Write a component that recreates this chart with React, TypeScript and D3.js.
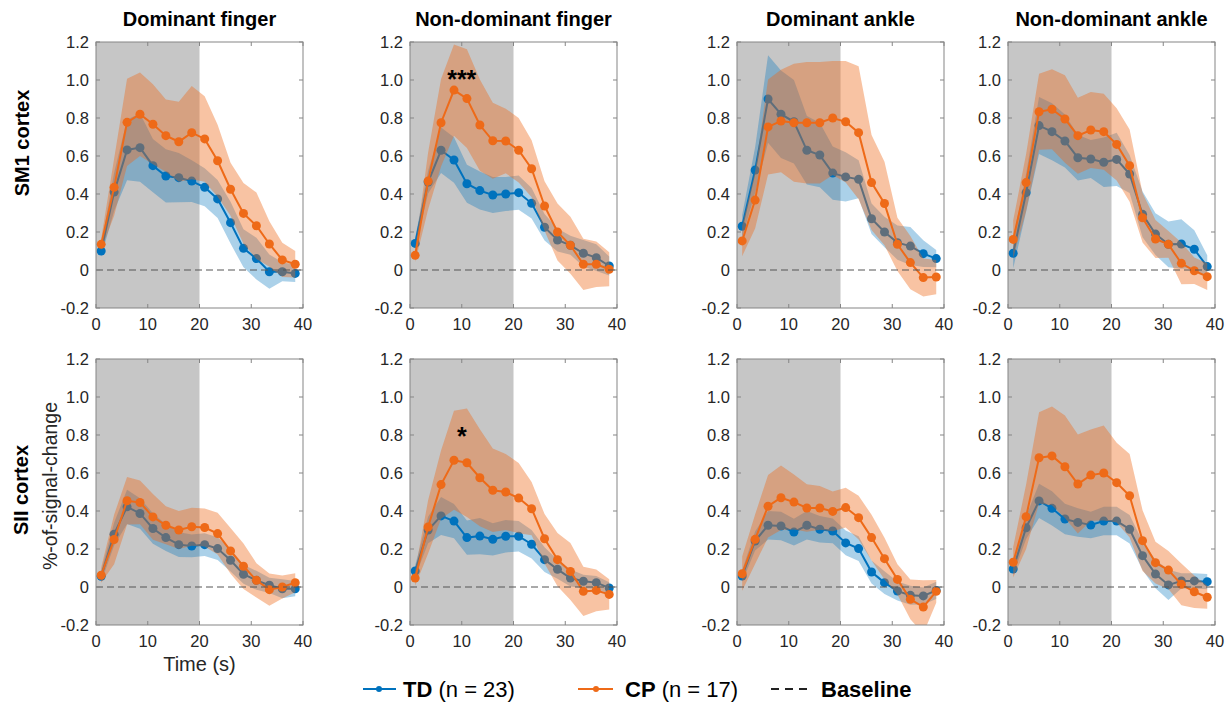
import React from 'react';
import * as d3 from 'd3';

// ---------- data ----------
const timePoints = [1, 3.5, 6, 8.5, 11, 13.5, 16, 18.5, 21, 23.5, 26, 28.5, 31, 33.5, 36, 38.5];
const xTicks = [0, 10, 20, 30, 40];
const yTicks = [-0.2, 0, 0.2, 0.4, 0.6, 0.8, 1.0, 1.2];
const yTickLabels = ['-0.2', '0', '0.2', '0.4', '0.6', '0.8', '1.0', '1.2'];
const columnTitles = ['Dominant finger', 'Non-dominant finger', 'Dominant ankle', 'Non-dominant ankle'];
const rowTitles = ['SM1 cortex', 'SII cortex'];
const stimulusWindow = [0, 20];

// SM1 cortex
const tdSM1DomFingerMean = [0.10, 0.41, 0.632, 0.644, 0.549, 0.495, 0.486, 0.468, 0.435, 0.374, 0.249, 0.114, 0.06, -0.009, -0.009, -0.018];
const tdSM1DomFingerErr = [0.03, 0.1, 0.16, 0.18, 0.14, 0.14, 0.13, 0.11, 0.1, 0.1, 0.11, 0.1, 0.11, 0.09, 0.05, 0.045];
const cpSM1DomFingerMean = [0.135, 0.435, 0.777, 0.82, 0.767, 0.707, 0.675, 0.723, 0.69, 0.575, 0.425, 0.298, 0.233, 0.137, 0.053, 0.03];
const cpSM1DomFingerErr = [0.03, 0.15, 0.23, 0.22, 0.21, 0.19, 0.21, 0.245, 0.225, 0.19, 0.14, 0.16, 0.175, 0.12, 0.09, 0.07];

const tdSM1NonDomFingerMean = [0.14, 0.463, 0.63, 0.579, 0.454, 0.418, 0.395, 0.40, 0.407, 0.351, 0.225, 0.158, 0.13, 0.088, 0.065, 0.021];
const tdSM1NonDomFingerErr = [0.03, 0.06, 0.12, 0.12, 0.1, 0.1, 0.095, 0.09, 0.09, 0.08, 0.07, 0.06, 0.05, 0.07, 0.07, 0.05];
const cpSM1NonDomFingerMean = [0.077, 0.468, 0.775, 0.947, 0.902, 0.763, 0.68, 0.679, 0.63, 0.533, 0.337, 0.2, 0.13, 0.03, 0.03, 0.004];
const cpSM1NonDomFingerErr = [0.035, 0.15, 0.23, 0.24, 0.26, 0.24, 0.2, 0.17, 0.17, 0.15, 0.13, 0.15, 0.15, 0.135, 0.12, 0.09];

const tdSM1DomAnkleMean = [0.23, 0.526, 0.90, 0.82, 0.78, 0.63, 0.605, 0.51, 0.49, 0.477, 0.27, 0.20, 0.144, 0.126, 0.086, 0.06];
const tdSM1DomAnkleErr = [0.06, 0.12, 0.23, 0.23, 0.22, 0.18, 0.17, 0.14, 0.13, 0.1, 0.08, 0.08, 0.09, 0.1, 0.07, 0.045];
const cpSM1DomAnkleMean = [0.153, 0.368, 0.753, 0.784, 0.775, 0.775, 0.775, 0.80, 0.78, 0.723, 0.46, 0.35, 0.135, 0.039, -0.04, -0.037];
const cpSM1DomAnkleErr = [0.08, 0.15, 0.25, 0.27, 0.31, 0.32, 0.32, 0.3, 0.32, 0.35, 0.25, 0.22, 0.14, 0.14, 0.1, 0.09];

const tdSM1NonDomAnkleMean = [0.088, 0.407, 0.76, 0.728, 0.679, 0.591, 0.584, 0.567, 0.582, 0.505, 0.293, 0.189, 0.135, 0.137, 0.109, 0.018];
const tdSM1NonDomAnkleErr = [0.08, 0.1, 0.15, 0.15, 0.14, 0.12, 0.1, 0.13, 0.14, 0.1, 0.12, 0.11, 0.12, 0.13, 0.1, 0.06];
const cpSM1NonDomAnkleMean = [0.161, 0.46, 0.833, 0.846, 0.795, 0.707, 0.737, 0.728, 0.661, 0.549, 0.275, 0.163, 0.135, 0.035, -0.004, -0.035];
const cpSM1NonDomAnkleErr = [0.1, 0.15, 0.2, 0.21, 0.23, 0.2, 0.2, 0.2, 0.19, 0.19, 0.13, 0.1, 0.07, 0.11, 0.07, 0.07];

// SII cortex
const tdSIIDomFingerMean = [0.056, 0.278, 0.422, 0.387, 0.308, 0.26, 0.223, 0.216, 0.223, 0.202, 0.141, 0.067, 0.035, 0.009, -0.009, -0.009];
const tdSIIDomFingerErr = [0.03, 0.06, 0.09, 0.08, 0.08, 0.07, 0.065, 0.06, 0.06, 0.06, 0.06, 0.05, 0.05, 0.04, 0.05, 0.04];
const cpSIIDomFingerMean = [0.062, 0.25, 0.454, 0.445, 0.369, 0.325, 0.30, 0.317, 0.313, 0.281, 0.19, 0.109, 0.035, -0.014, 0.0, 0.023];
const cpSIIDomFingerErr = [0.04, 0.13, 0.125, 0.115, 0.12, 0.1, 0.1, 0.1, 0.1, 0.11, 0.12, 0.12, 0.09, 0.085, 0.06, 0.05];

const tdSIINonDomFingerMean = [0.084, 0.30, 0.374, 0.347, 0.26, 0.268, 0.251, 0.267, 0.267, 0.225, 0.144, 0.093, 0.047, 0.03, 0.023, -0.005];
const tdSIINonDomFingerErr = [0.03, 0.07, 0.1, 0.09, 0.09, 0.095, 0.085, 0.085, 0.08, 0.075, 0.065, 0.05, 0.045, 0.035, 0.035, 0.03];
const cpSIINonDomFingerMean = [0.047, 0.316, 0.539, 0.667, 0.654, 0.575, 0.509, 0.50, 0.468, 0.412, 0.254, 0.144, 0.082, -0.023, -0.018, -0.039];
const cpSIINonDomFingerErr = [0.04, 0.14, 0.18, 0.26, 0.285, 0.255, 0.22, 0.2, 0.185, 0.14, 0.13, 0.14, 0.15, 0.13, 0.11, 0.08];

const tdSIIDomAnkleMean = [0.058, 0.242, 0.325, 0.321, 0.289, 0.325, 0.304, 0.295, 0.232, 0.202, 0.079, 0.023, -0.021, -0.044, -0.047, -0.018];
const tdSIIDomAnkleErr = [0.03, 0.05, 0.075, 0.075, 0.07, 0.075, 0.07, 0.065, 0.065, 0.065, 0.06, 0.06, 0.05, 0.05, 0.045, 0.045];
const cpSIIDomAnkleMean = [0.07, 0.251, 0.425, 0.47, 0.447, 0.416, 0.416, 0.398, 0.418, 0.365, 0.26, 0.149, 0.04, -0.065, -0.105, -0.023];
const cpSIIDomAnkleErr = [0.09, 0.13, 0.165, 0.17, 0.145, 0.125, 0.115, 0.105, 0.105, 0.115, 0.12, 0.11, 0.08, 0.105, 0.14, 0.06];

const tdSIINonDomAnkleMean = [0.095, 0.312, 0.453, 0.414, 0.358, 0.34, 0.326, 0.347, 0.347, 0.304, 0.165, 0.068, 0.011, 0.032, 0.032, 0.028];
const tdSIINonDomAnkleErr = [0.03, 0.06, 0.09, 0.09, 0.08, 0.075, 0.07, 0.075, 0.075, 0.075, 0.075, 0.075, 0.08, 0.04, 0.04, 0.04];
const cpSIINonDomAnkleMean = [0.13, 0.37, 0.68, 0.69, 0.633, 0.542, 0.589, 0.60, 0.549, 0.48, 0.244, 0.128, 0.089, 0.014, -0.025, -0.054];
const cpSIINonDomAnkleErr = [0.08, 0.17, 0.24, 0.26, 0.27, 0.26, 0.24, 0.25, 0.21, 0.22, 0.16, 0.11, 0.1, 0.11, 0.085, 0.06];

// significance annotations
const sigPanels = [1, 5];
const sigTimes = [10, 10];
const sigValues = [0.96, 0.75];
const sigLabels = ['***', '*'];

const legendLabels = ['TD', 'CP', 'Baseline'];
const legendCounts = ['(n = 23)', '(n = 17)', ''];

// ---------- styling / layout ----------
const W = 1231;
const H = 703;
const FONT = '"Liberation Sans", Arial, Helvetica, sans-serif';
const TD_COLOR = '#0072BD';
const CP_COLOR = '#EE6A18';
const GRAY_BG = '#c6c6c6';
const AXIS_COLOR = '#858585';
const TEXT_COLOR = '#262626';
const panelLefts = [96, 410, 737, 1008];
const panelTops = [42, 359];
const panelW = 207;
const panelH = 266;

type Panel = {
  row: number; col: number;
  td: number[]; tdErr: number[]; cp: number[]; cpErr: number[];
};

const panels: Panel[] = [
  { row: 0, col: 0, td: tdSM1DomFingerMean, tdErr: tdSM1DomFingerErr, cp: cpSM1DomFingerMean, cpErr: cpSM1DomFingerErr },
  { row: 0, col: 1, td: tdSM1NonDomFingerMean, tdErr: tdSM1NonDomFingerErr, cp: cpSM1NonDomFingerMean, cpErr: cpSM1NonDomFingerErr },
  { row: 0, col: 2, td: tdSM1DomAnkleMean, tdErr: tdSM1DomAnkleErr, cp: cpSM1DomAnkleMean, cpErr: cpSM1DomAnkleErr },
  { row: 0, col: 3, td: tdSM1NonDomAnkleMean, tdErr: tdSM1NonDomAnkleErr, cp: cpSM1NonDomAnkleMean, cpErr: cpSM1NonDomAnkleErr },
  { row: 1, col: 0, td: tdSIIDomFingerMean, tdErr: tdSIIDomFingerErr, cp: cpSIIDomFingerMean, cpErr: cpSIIDomFingerErr },
  { row: 1, col: 1, td: tdSIINonDomFingerMean, tdErr: tdSIINonDomFingerErr, cp: cpSIINonDomFingerMean, cpErr: cpSIINonDomFingerErr },
  { row: 1, col: 2, td: tdSIIDomAnkleMean, tdErr: tdSIIDomAnkleErr, cp: cpSIIDomAnkleMean, cpErr: cpSIIDomAnkleErr },
  { row: 1, col: 3, td: tdSIINonDomAnkleMean, tdErr: tdSIINonDomAnkleErr, cp: cpSIINonDomAnkleMean, cpErr: cpSIINonDomAnkleErr },
];

function PanelView({ p, idx }: { p: Panel; idx: number }) {
  const left = panelLefts[p.col];
  const top = panelTops[p.row];
  const x = d3.scaleLinear().domain([0, 40]).range([left, left + panelW]);
  const y = d3.scaleLinear().domain([-0.2, 1.2]).range([top + panelH, top]);
  const idxs = d3.range(timePoints.length);

  const band = (m: number[], e: number[]) =>
    d3.area<number>()
      .x((i) => x(timePoints[i]))
      .y0((i) => y(m[i] - e[i]))
      .y1((i) => y(m[i] + e[i]))(idxs) || '';
  const line = (m: number[]) =>
    d3.line<number>().x((i) => x(timePoints[i])).y((i) => y(m[i]))(idxs) || '';

  const clipId = `clip-${idx}`;
  const tickLen = 4;
  const sig = sigPanels.map((pi, k) => (pi === idx ? k : -1)).filter((k) => k >= 0);

  return (
    <g>
      <defs>
        <clipPath id={clipId}>
          <rect x={left} y={top} width={panelW} height={panelH} />
        </clipPath>
      </defs>
      <rect x={left} y={top} width={panelW} height={panelH} fill="#fff" />
      <g clipPath={`url(#${clipId})`}>
        <rect x={x(stimulusWindow[0])} y={top} width={x(stimulusWindow[1]) - x(stimulusWindow[0])} height={panelH} fill={GRAY_BG} />
        <path d={band(p.td, p.tdErr)} fill={TD_COLOR} fillOpacity={0.33} stroke="none" />
        <path d={line(p.td)} fill="none" stroke={TD_COLOR} strokeWidth={2} />
        {idxs.map((i) => (
          <circle key={'td' + i} cx={x(timePoints[i])} cy={y(p.td[i])} r={4.5} fill={TD_COLOR} />
        ))}
        <path d={band(p.cp, p.cpErr)} fill={CP_COLOR} fillOpacity={0.4} stroke="none" />
        <path d={line(p.cp)} fill="none" stroke={CP_COLOR} strokeWidth={2} />
        {idxs.map((i) => (
          <circle key={'cp' + i} cx={x(timePoints[i])} cy={y(p.cp[i])} r={4.5} fill={CP_COLOR} />
        ))}
        <line x1={x(0)} x2={x(40)} y1={y(0)} y2={y(0)} stroke="#555" strokeWidth={1} strokeDasharray="7,4" />
      </g>
      {/* axes box */}
      <rect x={left} y={top} width={panelW} height={panelH} fill="none" stroke={AXIS_COLOR} strokeWidth={1} />
      {xTicks.map((t) => (
        <g key={'xt' + t}>
          <line x1={x(t)} x2={x(t)} y1={top + panelH} y2={top + panelH - tickLen} stroke={AXIS_COLOR} />
          <line x1={x(t)} x2={x(t)} y1={top} y2={top + tickLen} stroke={AXIS_COLOR} />
          <text x={x(t)} y={top + panelH + 22} textAnchor="middle" fontSize={16.5} fill={TEXT_COLOR} fontFamily={FONT}>
            {t}
          </text>
        </g>
      ))}
      {yTicks.map((t, k) => (
        <g key={'yt' + k}>
          <line x1={left} x2={left + tickLen} y1={y(t)} y2={y(t)} stroke={AXIS_COLOR} />
          <line x1={left + panelW} x2={left + panelW - tickLen} y1={y(t)} y2={y(t)} stroke={AXIS_COLOR} />
          <text x={left - 7} y={y(t) + 5.8} textAnchor="end" fontSize={16.5} fill={TEXT_COLOR} fontFamily={FONT}>
            {yTickLabels[k]}
          </text>
        </g>
      ))}
      {sig.map((k) => (
        <text key={'sig' + k} x={x(sigTimes[k])} y={y(sigValues[k])} textAnchor="middle" fontSize={25} fontWeight="bold" fill="#000" fontFamily={FONT}>
          {sigLabels[k]}
        </text>
      ))}
    </g>
  );
}

export default function App() {
  const legendY = 689;
  return (
    <svg width={W} height={H} viewBox={`0 0 ${W} ${H}`} style={{ position: 'absolute', left: 0, top: 0, background: '#fff' }}>
      <rect x={0} y={0} width={W} height={H} fill="#fff" />
      {panels.map((p, i) => (
        <PanelView key={i} p={p} idx={i} />
      ))}
      {columnTitles.map((t, c) => (
        <text key={'ct' + c} x={panelLefts[c] + panelW / 2} y={26} textAnchor="middle" fontSize={20} fontWeight="bold" fill="#000" fontFamily={FONT}>
          {t}
        </text>
      ))}
      <text transform="translate(29,143) rotate(-90)" textAnchor="middle" fontSize={20} fontWeight="bold" fill="#000" fontFamily={FONT}>
        {rowTitles[0]}
      </text>
      <text transform="translate(28,490) rotate(-90)" textAnchor="middle" fontSize={20} fontWeight="bold" fill="#000" fontFamily={FONT}>
        {rowTitles[1]}
      </text>
      <text transform="translate(57,486) rotate(-90)" textAnchor="middle" fontSize={19.5} fill={TEXT_COLOR} fontFamily={FONT}>
        %-of-signal-change
      </text>
      <text x={panelLefts[0] + panelW / 2} y={671} textAnchor="middle" fontSize={20} fill={TEXT_COLOR} fontFamily={FONT}>
        Time (s)
      </text>

      {/* legend */}
      <g fontFamily={FONT} fontSize={22}>
        <line x1={363} x2={396} y1={legendY} y2={legendY} stroke={TD_COLOR} strokeWidth={2} />
        <circle cx={379} cy={legendY} r={3} fill={TD_COLOR} />
        <text x={403} y={legendY + 8} fill="#000">
          <tspan fontWeight="bold">{legendLabels[0]}</tspan>
          <tspan> {legendCounts[0]}</tspan>
        </text>
        <line x1={578} x2={613} y1={legendY} y2={legendY} stroke={CP_COLOR} strokeWidth={2} />
        <circle cx={596} cy={legendY} r={3} fill={CP_COLOR} />
        <text x={625} y={legendY + 8} fill="#000">
          <tspan fontWeight="bold">{legendLabels[1]}</tspan>
          <tspan> {legendCounts[1]}</tspan>
        </text>
        <line x1={771} x2={807} y1={legendY} y2={legendY} stroke="#222" strokeWidth={2} strokeDasharray="8,6" />
        <text x={821} y={legendY + 8} fill="#000" fontWeight="bold">
          {legendLabels[2]}
        </text>
      </g>
    </svg>
  );
}
